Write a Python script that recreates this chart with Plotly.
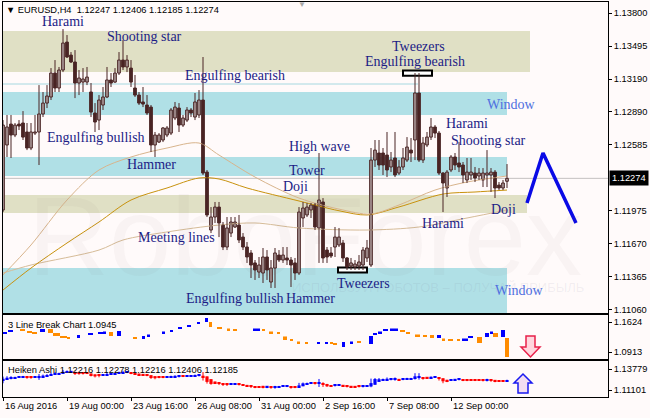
import plotly.graph_objects as go

# ------------------------------------------------------------------ data
symbol = "EURUSD,H4"
opens = [1.11982, 1.12582, 1.12775, 1.12674, 1.12775, 1.12785, 1.12702, 1.12554, 1.12692, 1.12702,
         1.12868, 1.12969, 1.13025, 1.13246, 1.13108, 1.13274, 1.13532, 1.13412, 1.13348, 1.13154,
         1.13163, 1.13163, 1.13071, 1.12877, 1.12812, 1.12951, 1.13025, 1.13182, 1.13163, 1.13246,
         1.13366, 1.13302, 1.13292, 1.13108, 1.13043, 1.12979, 1.12951, 1.12932, 1.12582, 1.12609,
         1.12628, 1.12674, 1.12692, 1.12831, 1.12923, 1.12766, 1.12812, 1.12905, 1.12840, 1.12859,
         1.12997, 1.12332, 1.11797, 1.11917, 1.12009, 1.11843, 1.11640, 1.11769, 1.11825, 1.11843,
         1.11732, 1.11640, 1.11585, 1.11493, 1.11409, 1.11400, 1.11548, 1.11317, 1.11446, 1.11566,
         1.11520, 1.11539, 1.11520, 1.11493, 1.11400, 1.11908, 1.11936, 1.11982, 1.12028, 1.11816,
         1.12056, 1.11612, 1.11585, 1.11640, 1.11659, 1.11677, 1.11539, 1.11465, 1.11456, 1.11465,
         1.11474, 1.11539, 1.11474, 1.12443, 1.12508, 1.12508, 1.12489, 1.12379, 1.12462, 1.12323,
         1.12379, 1.12443, 1.12535, 1.12628, 1.13062, 1.12443, 1.12582, 1.12655, 1.12748, 1.12692,
         1.12323, 1.12185, 1.12351, 1.12471, 1.12416, 1.12397, 1.12259, 1.12305, 1.12323, 1.12296,
         1.12259, 1.12305, 1.12305, 1.12332, 1.12212, 1.12185, 1.12247]
highs = [1.12812, 1.12859, 1.12859, 1.12785, 1.12812, 1.12895, 1.12785, 1.12785, 1.12859, 1.13135,
         1.13071, 1.13135, 1.13292, 1.13366, 1.13302, 1.13652, 1.13597, 1.13440, 1.13458, 1.13274,
         1.13292, 1.13302, 1.13154, 1.12969, 1.13043, 1.13117, 1.13302, 1.13246, 1.13292, 1.13440,
         1.13551, 1.13412, 1.13366, 1.13228, 1.13071, 1.13117, 1.13043, 1.12951, 1.12702, 1.12692,
         1.12748, 1.12757, 1.12923, 1.12979, 1.12969, 1.12859, 1.12932, 1.12923, 1.13062, 1.13089,
         1.13394, 1.12351, 1.12009, 1.12056, 1.12056, 1.11871, 1.11917, 1.11917, 1.11917, 1.11936,
         1.11769, 1.11686, 1.11612, 1.11520, 1.11548, 1.11631, 1.11612, 1.11520, 1.11631, 1.11612,
         1.11640, 1.11640, 1.11548, 1.11539, 1.12009, 1.12056, 1.12046, 1.12046, 1.12046, 1.12508,
         1.12092, 1.11640, 1.11640, 1.11825, 1.11816, 1.11705, 1.11548, 1.11539, 1.11520, 1.11566,
         1.11640, 1.11705, 1.12554, 1.12628, 1.12628, 1.12554, 1.12702, 1.12517, 1.12702, 1.12443,
         1.12554, 1.12655, 1.12646, 1.13246, 1.13246, 1.12655, 1.12702, 1.12831, 1.12766, 1.12711,
         1.12332, 1.12351, 1.12489, 1.12508, 1.12609, 1.12425, 1.12462, 1.12462, 1.12379, 1.12369,
         1.12369, 1.12535, 1.12369, 1.12351, 1.12240, 1.12259, 1.12406]
lows = [1.11963, 1.12471, 1.12462, 1.12655, 1.12720, 1.12628, 1.12535, 1.12535, 1.12674, 1.12397,
        1.12840, 1.12923, 1.12997, 1.13071, 1.13071, 1.13255, 1.13385, 1.13339, 1.13015, 1.13043,
        1.13071, 1.13135, 1.12840, 1.12702, 1.12720, 1.12905, 1.13015, 1.13117, 1.13154, 1.13228,
        1.13274, 1.13255, 1.13117, 1.13025, 1.12951, 1.12932, 1.12859, 1.12517, 1.12471, 1.12600,
        1.12609, 1.12655, 1.12674, 1.12812, 1.12702, 1.12748, 1.12794, 1.12840, 1.12812, 1.12831,
        1.12305, 1.11917, 1.11769, 1.11862, 1.11732, 1.11612, 1.11612, 1.11732, 1.11816, 1.11677,
        1.11612, 1.11493, 1.11354, 1.11336, 1.11354, 1.11308, 1.11336, 1.11262, 1.11262, 1.11502,
        1.11493, 1.11474, 1.11271, 1.11336, 1.11382, 1.11825, 1.11917, 1.11908, 1.11797, 1.11493,
        1.11493, 1.11493, 1.11539, 1.11548, 1.11640, 1.11502, 1.11428, 1.11428, 1.11428, 1.11428,
        1.11428, 1.11502, 1.11456, 1.12379, 1.12351, 1.12305, 1.12286, 1.12332, 1.12286, 1.12305,
        1.12351, 1.12425, 1.12425, 1.12443, 1.12425, 1.12416, 1.12563, 1.12628, 1.12646, 1.12305,
        1.11963, 1.12102, 1.12332, 1.12351, 1.12332, 1.12231, 1.12231, 1.12259, 1.12240, 1.12259,
        1.12194, 1.12194, 1.12148, 1.12092, 1.12166, 1.12166, 1.12185]
closes = [1.12766, 1.12748, 1.12674, 1.12766, 1.12757, 1.12655, 1.12554, 1.12702, 1.12702, 1.12868,
          1.12969, 1.13034, 1.13246, 1.13108, 1.13274, 1.13523, 1.13394, 1.13348, 1.13154, 1.13200,
          1.13191, 1.13209, 1.12886, 1.12794, 1.12997, 1.13025, 1.13182, 1.13154, 1.13246, 1.13366,
          1.13302, 1.13366, 1.13163, 1.13043, 1.12969, 1.12960, 1.12877, 1.12582, 1.12674, 1.12674,
          1.12739, 1.12739, 1.12905, 1.12932, 1.12766, 1.12831, 1.12905, 1.12877, 1.12979, 1.12997,
          1.12323, 1.11936, 1.11917, 1.12009, 1.11862, 1.11640, 1.11816, 1.11871, 1.11871, 1.11705,
          1.11640, 1.11548, 1.11474, 1.11428, 1.11474, 1.11548, 1.11428, 1.11446, 1.11585, 1.11520,
          1.11566, 1.11520, 1.11474, 1.11400, 1.11963, 1.12000, 1.12009, 1.12028, 1.11825, 1.12074,
          1.11539, 1.11548, 1.11557, 1.11732, 1.11732, 1.11539, 1.11456, 1.11493, 1.11483, 1.11502,
          1.11612, 1.11631, 1.12443, 1.12535, 1.12397, 1.12397, 1.12351, 1.12443, 1.12305, 1.12379,
          1.12462, 1.12563, 1.12508, 1.13062, 1.12443, 1.12600, 1.12655, 1.12748, 1.12692, 1.12323,
          1.12231, 1.12332, 1.12471, 1.12397, 1.12379, 1.12305, 1.12332, 1.12332, 1.12277, 1.12323,
          1.12323, 1.12323, 1.12332, 1.12185, 1.12185, 1.12231, 1.12274]
bars = list(range(len(closes)))

# moving averages (read at sample bars)
ma_fast_x = [0, 7, 16, 24, 32, 41, 49, 54, 63, 74, 84, 92, 99, 108, 116, 126]
ma_fast = [1.11382, 1.11659, 1.12074, 1.12351, 1.12471, 1.12554, 1.12600, 1.12489, 1.12286, 1.12092,
           1.11990, 1.11945, 1.12028, 1.12166, 1.12240, 1.12296]
ma_mid_x = [0, 7, 16, 24, 32, 41, 49, 54, 61, 74, 84, 91, 99, 110, 118, 126]
ma_mid = [1.11243, 1.11446, 1.11677, 1.11871, 1.12074, 1.12185, 1.12277, 1.12268, 1.12185, 1.12065,
          1.11975, 1.11936, 1.12010, 1.12129, 1.12148, 1.12166]
ma_slow_x = [0, 7, 24, 30, 41, 54, 63, 74, 91, 104, 116, 126]
ma_slow = [1.11400, 1.11474, 1.11612, 1.11705, 1.11779, 1.11843, 1.11862, 1.11816, 1.11797, 1.11825,
           1.11908, 1.11982]

# forecast zigzag
zig_x = [131, 135, 143.25]
zig_y = [1.12046, 1.12508, 1.11862]

# zones
zone_top = [1.13634, 1.13071, 1.12471, 1.12120, 1.11446]
zone_bottom = [1.13255, 1.12859, 1.12296, 1.11954, 1.11031]
zone_end = [131.75, 126, 126, 131, 126]
zone_kind = ["sand", "window", "window", "sand", "window"]
level_price, level_end = 1.13145, 103.75

# tweezers markers: (first bar, last bar, bar whose extreme is marked, "high"/"low")
tweezers = [(100, 107.25, 103, "high"), (83.75, 91, 88, "low")]

# 3 line break blocks
lb_x0 = [0, 1.25, 4.25, 6, 7.25, 9.25, 11.25, 12.5, 14.25, 16, 18.5, 21.25, 23.75, 25, 26.5, 28.5,
         32.5, 34.75, 36, 39.75, 41.75, 43.75, 46, 48.5, 50.5, 51.5, 53.5, 56, 57.5, 62.5, 64.75,
         66.5, 68.5, 70, 71.75, 73.5, 75.5, 78.5, 80.5, 81.75, 82.5, 84.75, 86.75, 88.5, 91.5, 92.5,
         93.75, 95, 96.75, 99.25, 100.75, 103, 105, 106.75, 108.5, 109.75, 111.25, 113.5, 114.75,
         116.25, 118.5, 120.5, 121.75, 122.5, 124.5, 125.5]
lb_x1 = [1, 2.5, 5.5, 7.25, 8.5, 10.5, 12.5, 14.25, 16, 16.75, 19.25, 22.5, 25, 25.75, 27.5, 29.5,
         33.5, 35.5, 36.75, 40.5, 42.5, 44.75, 47, 49.25, 51.25, 52.25, 54.75, 56.75, 58.5, 64.25,
         65.5, 67.5, 69.25, 71, 72.5, 74.25, 76.25, 79.25, 81.25, 82.5, 83.5, 85.5, 87.5, 89.5, 92.5,
         93.5, 94.75, 96.25, 98.75, 100.5, 101.75, 104.25, 106, 107.75, 109.5, 110.5, 112.5, 114.25,
         116.25, 117.5, 119.75, 121.5, 122.5, 123.75, 125.5, 126.5]
lb_top = [1.1387, 1.1434, 1.1458, 1.1411, 1.1387, 1.1458, 1.1458, 1.1363, 1.1281, 1.1269, 1.1316,
          1.1352, 1.1375, 1.1399, 1.1387, 1.1411, 1.1257, 1.1292, 1.1328, 1.1399, 1.1422, 1.1494,
          1.1541, 1.1612, 1.1719, 1.1624, 1.1494, 1.1470, 1.1446, 1.1470, 1.1446, 1.1399, 1.1375,
          1.1281, 1.1209, 1.1162, 1.1138, 1.1138, 1.1150, 1.1138, 1.1114, 1.1150, 1.1162, 1.1174,
          1.1292, 1.1363, 1.1399, 1.1446, 1.1470, 1.1422, 1.1387, 1.1328, 1.1304, 1.1316, 1.1316,
          1.1233, 1.1209, 1.1209, 1.1233, 1.1281, 1.1269, 1.1363, 1.1399, 1.1363, 1.1434, 1.1245]
lb_bot = [1.1340, 1.1387, 1.1411, 1.1375, 1.1352, 1.1387, 1.1363, 1.1292, 1.1245, 1.1233, 1.1245,
          1.1316, 1.1340, 1.1363, 1.1292, 1.1292, 1.1221, 1.1221, 1.1292, 1.1363, 1.1387, 1.1458,
          1.1506, 1.1577, 1.1624, 1.1506, 1.1458, 1.1434, 1.1411, 1.1434, 1.1411, 1.1363, 1.1340,
          1.1197, 1.1174, 1.1126, 1.1103, 1.1103, 1.1114, 1.1103, 1.1079, 1.1032, 1.1126, 1.1126,
          1.1103, 1.1316, 1.1363, 1.1411, 1.1434, 1.1387, 1.1340, 1.1292, 1.1269, 1.1245, 1.1245,
          1.1197, 1.1174, 1.1174, 1.1197, 1.1245, 1.1126, 1.1269, 1.1363, 1.1269, 1.1269, 1.0795]
lb_up = [1, 1, 0, 0, 0, 1, 0, 0, 0, 0, 1, 1, 1, 1, 0, 1, 0, 1, 1, 1, 1, 1, 1, 1, 1, 0, 0, 0, 0, 1, 0,
         0, 0, 0, 0, 0, 0, 1, 1, 0, 0, 1, 1, 0, 1, 1, 1, 1, 1, 0, 0, 0, 0, 0, 1, 0, 0, 0, 1, 1, 0, 1,
         1, 0, 1, 0]
lb_value_label = "1.0945"

# axis labels
main_ticks = [1.13800, 1.13495, 1.13190, 1.12890, 1.12585, 1.11975, 1.11670, 1.11365, 1.11060]
lb_ticks = [1.1624, 1.0913]
ha_ticks = [1.13779, 1.11101]
time_bars = [0, 16, 32, 48, 64, 80, 96, 112]
time_labels = ["16 Aug 2016", "19 Aug 00:00", "23 Aug 16:00", "26 Aug 08:00", "31 Aug 00:00",
               "2 Sep 16:00", "7 Sep 08:00", "12 Sep 00:00"]
ha_label_values = ["1.12216", "1.12278", "1.12216", "1.12406", "1.12185"]

# ------------------------------------------------------------------ layout helpers
W, H = 650, 418
ML, MR, MT, MB = 3, 42, 2, 21
PW, PH = W - ML - MR, H - MT - MB


def fx(px):
    return (px - ML) / PW


def fy(py):
    return (H - MB - py) / PH


BG = "#FFFAFA"
CANDLE = "#4A2424"
SAND = "#E0E0C5"
WINDOW = "#B0E0E6"
LABEL = "#1C1C86"
SANS = "Liberation Sans"
SERIF = "Liberation Serif"
FS = 9.3

fig = go.Figure()

# moving averages
for xs, ys, col in [(ma_slow_x, ma_slow, "#D6BC98"), (ma_mid_x, ma_mid, "#C8920E"),
                    (ma_fast_x, ma_fast, "#D8B48C")]:
    fig.add_trace(go.Scatter(x=xs, y=ys, mode="lines", xaxis="x", yaxis="y", hoverinfo="skip",
                             line=dict(color=col, width=1, shape="spline", smoothing=0.9)))

# candle wicks
wx, wy = [], []
for i in bars:
    wx += [i, i, None]
    wy += [lows[i], highs[i], None]
fig.add_trace(go.Scatter(x=wx, y=wy, mode="lines", line=dict(color=CANDLE, width=1),
                         xaxis="x", yaxis="y", hoverinfo="skip"))
# candle bodies
fig.add_trace(go.Bar(
    x=bars, base=[min(o, c) for o, c in zip(opens, closes)],
    y=[max(abs(c - o), 0.00004) for o, c in zip(opens, closes)],
    width=0.68, xaxis="x", yaxis="y", hoverinfo="skip",
    marker=dict(color=["#FFFFFF" if c >= o else CANDLE for o, c in zip(opens, closes)],
                line=dict(color=CANDLE, width=1))))

# forecast zigzag
fig.add_trace(go.Scatter(x=zig_x, y=zig_y, mode="lines", line=dict(color="#0A0AE6", width=3.5),
                         xaxis="x", yaxis="y", hoverinfo="skip"))

# 3 line break blocks
fig.add_trace(go.Bar(
    x=[(a + b) / 2 for a, b in zip(lb_x0, lb_x1)], width=[b - a for a, b in zip(lb_x0, lb_x1)],
    base=lb_bot, y=[t - b for t, b in zip(lb_top, lb_bot)], xaxis="x2", yaxis="y2",
    hoverinfo="skip", marker=dict(color=["#0000FF" if u else "#FF8C00" for u in lb_up],
                                  line=dict(width=0))))

# Heiken Ashi computed from the candles
ha_c = [(o + h + l + c) / 4 for o, h, l, c in zip(opens, highs, lows, closes)]
ha_o = [(opens[0] + closes[0]) / 2]
for i in range(1, len(bars)):
    ha_o.append((ha_o[i - 1] + ha_c[i - 1]) / 2)
ha_h = [max(h, a, b) for h, a, b in zip(highs, ha_o, ha_c)]
ha_l = [min(l, a, b) for l, a, b in zip(lows, ha_o, ha_c)]
for up, col in [(True, "#0000FF"), (False, "#FF0000")]:
    xs, ys = [], []
    for i in bars:
        if (ha_c[i] >= ha_o[i]) == up:
            xs += [i, i, None]
            ys += [ha_l[i], ha_h[i], None]
    fig.add_trace(go.Scatter(x=xs, y=ys, mode="lines", line=dict(color=col, width=1),
                             xaxis="x3", yaxis="y3", hoverinfo="skip"))
fig.add_trace(go.Bar(
    x=bars, base=[min(a, b) for a, b in zip(ha_o, ha_c)],
    y=[max(abs(a - b), 0.0016) for a, b in zip(ha_o, ha_c)], width=0.8,
    xaxis="x3", yaxis="y3", hoverinfo="skip",
    marker=dict(color=["#0000FF" if b >= a else "#FF0000" for a, b in zip(ha_o, ha_c)],
                line=dict(width=0))))

# ------------------------------------------------------------------ shapes
shapes = []
for top, bot, end, kind in zip(zone_top, zone_bottom, zone_end, zone_kind):
    shapes.append(dict(type="rect", xref="x", yref="y", x0=-1, x1=end, y0=bot, y1=top,
                       fillcolor=SAND if kind == "sand" else WINDOW, line=dict(width=0),
                       layer="below"))
shapes.append(dict(type="line", xref="x", yref="y", x0=-1, x1=level_end, y0=level_price,
                   y1=level_price, line=dict(color="#A6D8E0", width=1), layer="below"))
shapes.append(dict(type="line", xref="paper", yref="y", x0=0, x1=1, y0=closes[-1], y1=closes[-1],
                   line=dict(color="#C4C0C0", width=1), layer="below"))
for x0, x1, b, kind in tweezers:
    lvl = highs[b] if kind == "high" else lows[b]
    shapes.append(dict(type="rect", xref="x", yref="y", x0=x0, x1=x1, y0=lvl - 0.00024,
                       y1=lvl + 0.00024, fillcolor="#FFFFFF", line=dict(color="black", width=2),
                       layer="below"))


def path(points):
    return "M " + " L ".join(f"{fx(px):.5f},{fy(py):.5f}" for px, py in points) + " Z"


shapes.append(dict(type="path", xref="paper", yref="paper",
                   path=path([(526, 336), (535, 336), (535, 347), (540, 347), (530.5, 357),
                              (521, 347), (526, 347)]),
                   fillcolor="#FFD6DE", line=dict(color="#E8204A", width=1.5)))
shapes.append(dict(type="path", xref="paper", yref="paper",
                   path=path([(523, 374), (532, 383), (528, 383), (528, 393), (518, 393),
                              (518, 383), (514, 383)]),
                   fillcolor="#F2DDF2", line=dict(color="#1A1AF0", width=1.5)))

# ------------------------------------------------------------------ annotations
ann = []


def text(t, px, py, size=FS, color="black", family=SANS, xanchor="left", **kw):
    ann.append(dict(text=t, x=fx(px), y=fy(py), xref="paper", yref="paper", showarrow=False,
                    xanchor=xanchor, yanchor="middle", font=dict(size=size, color=color,
                                                                 family=family), **kw))


# watermark
text("RoboForex", 305, 236, size=112, color="rgba(120,90,90,0.045)", xanchor="center")
text("ИСПОЛЬЗУЙ РОБОТОВ – ПОЛУЧАЙ ПРИБЫЛЬ", 438, 287, size=13, color="rgba(120,120,150,0.10)",
     xanchor="center")

header = ("▼ " + symbol + "\u00a0\u00a0" +
          " ".join(f"{v:.5f}" for v in (opens[-1], highs[-1], lows[-1], closes[-1])))
text(header, 4, 10)
text("▼", 302, 4, size=8, color="#A8A8A8", xanchor="center")

pattern_labels = [("Harami", 63, 21), ("Shooting star", 144, 36), ("Engulfing bearish", 235, 75),
                  ("Engulfing bullish", 96, 137), ("Hammer", 151, 164),
                  ("Meeting lines", 176, 237), ("Engulfing bullish", 235, 298),
                  ("Hammer", 311, 298), ("High wave", 319, 147), ("Tower", 307, 171),
                  ("Doji", 295, 186), ("Tweezers", 363, 283), ("Tweezers", 418, 46),
                  ("Engulfing bearish", 415, 61), ("Harami", 467, 124),
                  ("Shooting star", 488, 140), ("Harami", 443, 223), ("Doji", 503, 210)]
for t, px, py in pattern_labels:
    text(t, px, py, size=14, color=LABEL, family=SERIF, xanchor="center")
for px, py in [(511, 104), (519, 290)]:
    text("Window", px, py, size=14, color="#4F6FE0", family=SERIF, xanchor="center")

text("3 Line Break Chart " + lb_value_label, 6, 325)
text("Heiken Ashi " + " ".join(ha_label_values), 6, 370)

for b, lab in zip(time_bars, time_labels):
    ann.append(dict(text=lab, x=b, xref="x3", y=fy(406), yref="paper", showarrow=False,
                    xanchor="left", yanchor="middle", font=dict(size=FS, color="black",
                                                                family=SANS)))

ann.append(dict(text=f"{closes[-1]:.5f}", x=fx(609), xref="paper", y=closes[-1], yref="y",
                showarrow=False, xanchor="left", yanchor="middle", bgcolor="black",
                borderpad=2, font=dict(size=FS, color="white", family=SANS)))

# ------------------------------------------------------------------ axes
XR = [0, 151.25]
axis_common = dict(showline=True, mirror=True, linecolor="black", linewidth=1, showgrid=False,
                   zeroline=False)
xcommon = dict(axis_common, range=XR, showticklabels=False)
ycommon = dict(axis_common, side="right", ticks="outside", ticklen=3, tickcolor="black",
               tickfont=dict(size=FS, color="black", family=SANS))

fig.update_layout(
    width=W, height=H, autosize=False,
    margin=dict(l=ML, r=MR, t=MT, b=MB, pad=0),
    paper_bgcolor=BG, plot_bgcolor=BG,
    showlegend=False, barmode="overlay", hovermode=False,
    font=dict(family=SANS, size=FS, color="black"),
    xaxis=dict(xcommon, anchor="y", domain=[0, 1], ticks=""),
    xaxis2=dict(xcommon, anchor="y2", domain=[0, 1], matches="x", ticks=""),
    xaxis3=dict(xcommon, anchor="y3", domain=[0, 1], matches="x", ticks="outside", ticklen=3,
                tickcolor="black", tickvals=time_bars),
    yaxis=dict(ycommon, anchor="x", domain=[fy(313), fy(2)], range=[1.11031, 1.13902],
               tickvals=main_ticks, ticktext=[f"{v:.5f}" for v in main_ticks]),
    yaxis2=dict(ycommon, anchor="x2", domain=[fy(359), fy(315)], range=[1.07471, 1.17899],
                tickvals=lb_ticks, ticktext=[f"{v:.4f}" for v in lb_ticks]),
    yaxis3=dict(ycommon, anchor="x3", domain=[0, fy(361)], range=[1.10209, 1.14799],
                tickvals=ha_ticks, ticktext=[f"{v:.5f}" for v in ha_ticks]),
    shapes=shapes, annotations=ann,
)

fig.write_html("out.html", config={"displayModeBar": False},
               post_script="document.body.style.margin='0px';"
                           "document.body.style.overflow='hidden';")
